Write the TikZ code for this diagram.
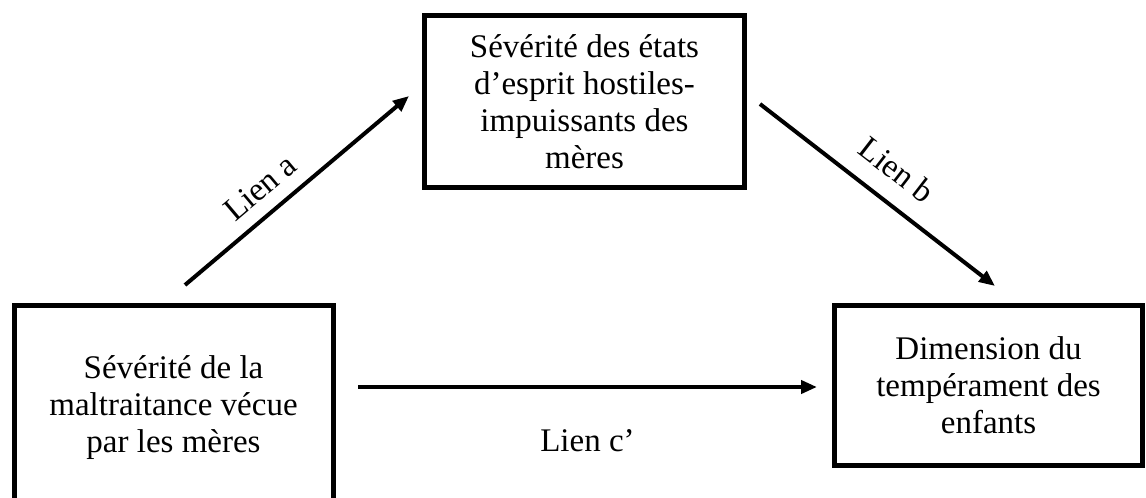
\documentclass[tikz,border=0pt]{standalone}
\usepackage{fontspec}
\setmainfont{Liberation Serif}
\usetikzlibrary{arrows.meta}

\tikzset{
    boite/.style={draw, line width=5pt, align=center, inner sep=0pt},
    lien/.style={line width=4pt, -{Triangle[length=16pt,width=13pt]}},
    etiquette/.style={inner sep=0pt}
}

\begin{document}
\begin{tikzpicture}[x=1pt, y=-1pt, font=\fontsize{33}{37}\selectfont]

        \useasboundingbox (0,0) rectangle (1146,498);
        \clip (0,0) rectangle (1146,498);

        % boites
        \node[boite, minimum width=319pt, minimum height=205pt] (maltraitance) at (173.5,408)
            {S\'ev\'erit\'e de la\\maltraitance v\'ecue\\par les m\`eres};
        \node[boite, minimum width=320pt, minimum height=172pt] (esprit) at (584.5,101.5)
            {S\'ev\'erit\'e des \'etats\\d'esprit hostiles-\\impuissants des\\m\`eres};
        \node[boite, minimum width=308pt, minimum height=160pt] (temperament) at (988.5,385.5)
            {Dimension du\\temp\'erament des\\enfants};

        % extremites des fleches
        \coordinate (a1) at (185,285);
        \coordinate (a2) at (409,96);
        \coordinate (b1) at (760,104);
        \coordinate (b2) at (995,286);
        \coordinate (c1) at (358,387);
        \coordinate (c2) at (817,387);

        \draw[lien] (a1) -- (a2) node[etiquette, pos=0.41, sloped, above=13pt] (liena) {Lien a};
        \draw[lien] (b1) -- (b2) node[etiquette, pos=0.5, sloped, above=18pt] (lienb) {Lien b};
        \draw[lien] (c1) -- (c2) node[etiquette, pos=0.5, below=41pt] (lienc) {Lien c'};
    \end{tikzpicture}
\end{document}
